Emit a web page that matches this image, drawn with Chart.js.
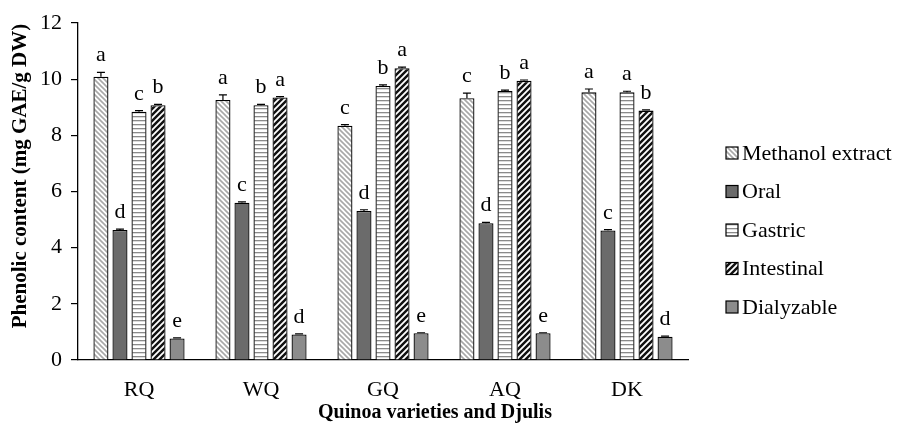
<!DOCTYPE html>
<html>
<head>
<meta charset="utf-8">
<script src="https://cdn.jsdelivr.net/npm/chart.js@4"></script>
<style>
  body { margin: 0; background: #fff; }
  #wrap { width: 900px; height: 429px; position: relative; }
</style>
</head>
<body>
<div id="wrap"><canvas id="phenolicChart"></canvas></div>
<script>
// data
var categories = ['RQ', 'WQ', 'GQ', 'AQ', 'DK'];
var seriesNames = ['Methanol extract', 'Oral', 'Gastric', 'Intestinal', 'Dialyzable'];
var methanol   = [10.09, 9.26, 8.34, 9.32, 9.53];
var oral       = [4.63, 5.60, 5.31, 4.87, 4.61];
var gastric    = [8.84, 9.07, 9.76, 9.58, 9.53];
var intestinal = [9.07, 9.35, 10.39, 9.94, 8.88];
var dialyzable = [0.77, 0.91, 0.95, 0.95, 0.83];
var methanolErr   = [0.15, 0.18, 0.04, 0.18, 0.12];
var oralErr       = [0.03, 0.03, 0.04, 0.03, 0.03];
var gastricErr    = [0.04, 0.03, 0.04, 0.03, 0.04];
var intestinalErr = [0.03, 0.03, 0.04, 0.03, 0.03];
var dialyzableErr = [0.02, 0.02, 0.02, 0.02, 0.02];
var methanolLetters   = ['a', 'a', 'c', 'c', 'a'];
var oralLetters       = ['d', 'c', 'd', 'd', 'c'];
var gastricLetters    = ['c', 'b', 'b', 'b', 'a'];
var intestinalLetters = ['b', 'a', 'a', 'a', 'b'];
var dialyzableLetters = ['e', 'd', 'e', 'e', 'd'];
var yTicks = [0, 2, 4, 6, 8, 10, 12];

var serif = "'Liberation Serif', 'Times New Roman', serif";

// fill patterns
function makePattern(size, draw) {
    var c = document.createElement('canvas');
    c.width = size; c.height = size;
    var g = c.getContext('2d');
    draw(g, size);
    return g.createPattern(c, 'repeat');
}
var methanolFill = makePattern(5, function (g, s) {
    g.fillStyle = '#fff'; g.fillRect(0, 0, s, s);
    g.strokeStyle = '#a8a8a8'; g.lineWidth = 1.6;
    g.beginPath();
    g.moveTo(-1, -1); g.lineTo(s + 1, s + 1);
    g.moveTo(-1, s - 1); g.lineTo(1, s + 1);
    g.moveTo(s - 1, -1); g.lineTo(s + 1, 1);
    g.stroke();
});
var gastricFill = makePattern(4, function (g, s) {
    g.fillStyle = '#fff'; g.fillRect(0, 0, s, s);
    g.fillStyle = '#8a8a8a'; g.fillRect(0, 0, s, 1.3);
});
var intestinalFill = makePattern(6, function (g, s) {
    g.fillStyle = '#111'; g.fillRect(0, 0, s, s);
    g.strokeStyle = '#fff'; g.lineWidth = 1.8;
    g.beginPath();
    g.moveTo(-1, s + 1); g.lineTo(s + 1, -1);
    g.moveTo(-1, 1); g.lineTo(1, -1);
    g.moveTo(s - 1, s + 1); g.lineTo(s + 1, s - 1);
    g.stroke();
});

var fills = [methanolFill, '#6b6b6b', gastricFill, intestinalFill, '#8c8c8c'];
var values = [methanol, oral, gastric, intestinal, dialyzable];
var errors = [methanolErr, oralErr, gastricErr, intestinalErr, dialyzableErr];
var letters = [methanolLetters, oralLetters, gastricLetters, intestinalLetters, dialyzableLetters];

var datasets = seriesNames.map(function (name, i) {
    return {
        label: name,
        data: values[i],
        backgroundColor: fills[i],
        borderColor: '#000',
        borderWidth: 1.3,
        borderSkipped: 'bottom',
        barPercentage: 0.79,
        categoryPercentage: 0.78
    };
});

// error bars, letters, axis titles and legend
var extrasPlugin = {
    id: 'extras',
    afterDatasetsDraw: function (chart) {
        var c = chart.ctx, y = chart.scales.y;
        c.save();
        chart.data.datasets.forEach(function (ds, i) {
            var meta = chart.getDatasetMeta(i);
            meta.data.forEach(function (bar, j) {
                var top = y.getPixelForValue(ds.data[j]);
                var errTop = y.getPixelForValue(ds.data[j] + errors[i][j]);
                c.strokeStyle = '#000'; c.lineWidth = 1.2;
                c.beginPath();
                c.moveTo(bar.x, top); c.lineTo(bar.x, errTop);
                c.moveTo(bar.x - 4, errTop); c.lineTo(bar.x + 4, errTop);
                c.stroke();
                c.fillStyle = '#000';
                c.font = '22px ' + serif;
                c.textAlign = 'center';
                c.textBaseline = 'alphabetic';
                c.fillText(letters[i][j], bar.x, errTop - 11);
            });
        });
        c.restore();
    },
    afterDraw: function (chart) {
        var c = chart.ctx;
        c.save();
        c.fillStyle = '#000';
        c.font = 'bold 20px ' + serif;
        c.textAlign = 'center';
        c.textBaseline = 'middle';
        c.fillText('Quinoa varieties and Djulis', 435, 413);
        c.font = 'bold 21px ' + serif;
        c.translate(21, 176);
        c.rotate(-Math.PI / 2);
        c.fillText('Phenolic content (mg GAE/g DW)', 0, 0);
        c.restore();

        c.save();
        c.font = '22px ' + serif;
        c.textBaseline = 'middle';
        c.textAlign = 'left';
        chart.data.datasets.forEach(function (ds, i) {
            var cy = 153 + i * 38.5;
            c.fillStyle = ds.backgroundColor;
            c.fillRect(726, cy - 6, 12, 12);
            c.strokeStyle = '#000'; c.lineWidth = 1.2;
            c.strokeRect(726, cy - 6, 12, 12);
            c.fillStyle = '#000';
            c.fillText(ds.label, 742, cy + 1);
        });
        c.restore();
    }
};

new Chart(document.getElementById('phenolicChart'), {
    type: 'bar',
    data: { labels: categories, datasets: datasets },
    options: {
        responsive: true,
        maintainAspectRatio: false,
        animation: false,
        layout: { padding: { top: 23, right: 212, left: 0, bottom: 0 } },
        plugins: {
            legend: { display: false },
            tooltip: { enabled: false }
        },
        scales: {
            x: {
                grid: { display: false },
                border: { color: '#000', width: 1.3 },
                ticks: { color: '#000', font: { family: serif, size: 22 }, padding: 9 },
                afterFit: function (s) { s.height = 69; }
            },
            y: {
                min: 0,
                max: 12,
                afterBuildTicks: function (s) { s.ticks = yTicks.map(function (v) { return { value: v }; }); },
                grid: { drawOnChartArea: false, drawTicks: true, tickLength: 7, color: '#000', lineWidth: 1.2 },
                border: { color: '#000', width: 1.3 },
                ticks: { color: '#000', font: { family: serif, size: 22 }, padding: 9 },
                afterFit: function (s) { s.width = 78; }
            }
        }
    },
    plugins: [extrasPlugin]
});
</script>
</body>
</html>
